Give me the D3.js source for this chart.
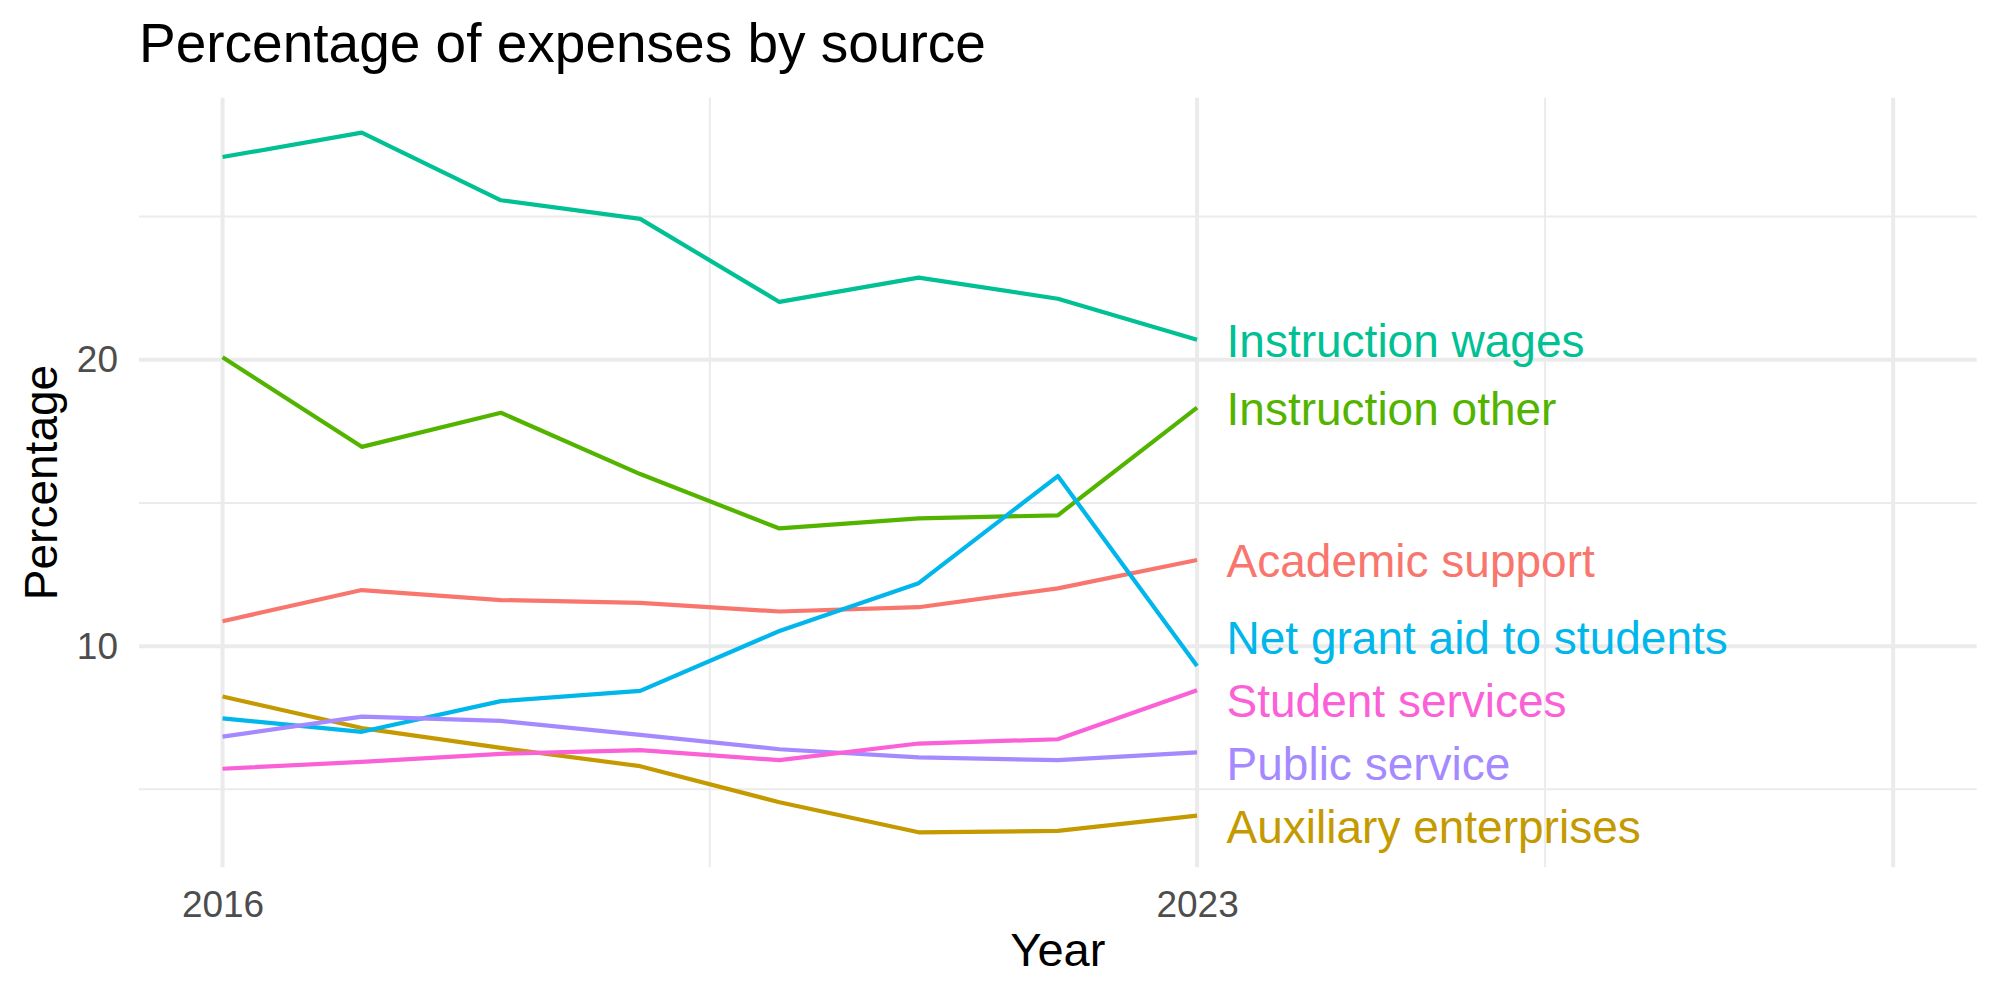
<!DOCTYPE html>
<html>
<head>
<meta charset="utf-8">
<title>Percentage of expenses by source</title>
<script src="https://cdn.jsdelivr.net/npm/d3@7"></script>
<style>
    body { margin: 0; background: #fff; }
    #chart-area text { font-family: "Liberation Sans", Arial, sans-serif; }
    .grid line { stroke: #ebebeb; }
</style>
</head>
<body>
<div id="chart-area"></div>
<script>

// Data
var years = [2016, 2017, 2018, 2019, 2020, 2021, 2022, 2023];

var categories = ["Academic support", "Auxiliary enterprises", "Instruction other", "Instruction wages",
    "Net grant aid to students", "Public service", "Student services"];

var academicSupport      = [10.87, 11.96, 11.61, 11.51, 11.21, 11.36, 12.02, 13.01];
var auxiliaryEnterprises = [8.24, 7.14, 6.45, 5.81, 4.55, 3.50, 3.55, 4.08];
var instructionOther     = [20.09, 16.96, 18.15, 16.01, 14.11, 14.46, 14.57, 18.33];
var instructionWages     = [27.08, 27.93, 25.57, 24.92, 22.02, 22.87, 22.13, 20.70];
var netGrantAid          = [7.48, 7.01, 8.08, 8.44, 10.53, 12.20, 15.94, 9.31];
var publicService        = [6.84, 7.54, 7.39, 6.90, 6.40, 6.12, 6.02, 6.29];
var studentServices      = [5.72, 5.96, 6.24, 6.37, 6.02, 6.60, 6.75, 8.46];

// where the repelled end labels sit (percentage units)
var labelValues = [12.98, 3.70, 18.30, 20.67, 10.31, 5.91, 8.11];

// axis
var xLimits = [2016, 2028];
var xBreaks = [2016, 2023, 2028];
var xLabels = ["2016", "2023", ""];
var xMinorBreaks = [2019.5, 2025.5];
var yBreaks = [10, 20];
var yMinorBreaks = [5, 15, 25];

var colors = ["#F8766D", "#C49A00", "#53B400", "#00C094", "#00B6EB", "#A58AFF", "#FB61D7"];


ExpenseChart = function(_parentElement){
    this.parentElement = _parentElement;
    this.data = [academicSupport, auxiliaryEnterprises, instructionOther, instructionWages,
        netGrantAid, publicService, studentServices].map(function(vals, i){
        return {
            name: categories[i],
            label: labelValues[i],
            values: vals.map(function(v, j){ return {year: years[j], value: v}; })
        };
    });

    this.initVis();
}


/*
 * Initialize visualization (static content, e.g. SVG area or axes)
 */

ExpenseChart.prototype.initVis = function(){
    var vis = this;

    vis.margin = {top: 97.7, bottom: 132.7, left: 139, right: 23.3};
    vis.width = 2000 - vis.margin.left - vis.margin.right;
    vis.height = 1000 - vis.margin.top - vis.margin.bottom;

    vis.root = d3.select("#" + vis.parentElement).append("svg")
        .attr("width", 2000)
        .attr("height", 1000);

    vis.svg = vis.root.append("g")
        .attr("transform", "translate(" + vis.margin.left + "," + vis.margin.top + ")");

    // Scales (ggplot style 5% expansion)
    var xSpan = xLimits[1] - xLimits[0];
    vis.x = d3.scaleLinear()
        .domain([xLimits[0] - xSpan * 0.05, xLimits[1] + xSpan * 0.05])
        .range([0, vis.width]);

    var all = d3.merge(vis.data.map(function(d){ return d.values.map(function(v){ return v.value; }); }));
    var yExt = d3.extent(all);
    var ySpan = yExt[1] - yExt[0];
    vis.y = d3.scaleLinear()
        .domain([yExt[0] - ySpan * 0.05, yExt[1] + ySpan * 0.05])
        .range([vis.height, 0]);

    // grid lines
    var grid = vis.svg.append("g").attr("class", "grid");

    grid.selectAll("line.y-minor")
        .data(yMinorBreaks)
        .enter().append("line")
        .attr("class", "y-minor")
        .attr("x1", 0).attr("x2", vis.width)
        .attr("y1", function(d){ return vis.y(d); })
        .attr("y2", function(d){ return vis.y(d); })
        .attr("stroke-width", 2);

    grid.selectAll("line.x-minor")
        .data(xMinorBreaks)
        .enter().append("line")
        .attr("class", "x-minor")
        .attr("y1", 0).attr("y2", vis.height)
        .attr("x1", function(d){ return vis.x(d); })
        .attr("x2", function(d){ return vis.x(d); })
        .attr("stroke-width", 2);

    grid.selectAll("line.y-major")
        .data(yBreaks)
        .enter().append("line")
        .attr("class", "y-major")
        .attr("x1", 0).attr("x2", vis.width)
        .attr("y1", function(d){ return vis.y(d); })
        .attr("y2", function(d){ return vis.y(d); })
        .attr("stroke-width", 4);

    grid.selectAll("line.x-major")
        .data(xBreaks)
        .enter().append("line")
        .attr("class", "x-major")
        .attr("y1", 0).attr("y2", vis.height)
        .attr("x1", function(d){ return vis.x(d); })
        .attr("x2", function(d){ return vis.x(d); })
        .attr("stroke-width", 4);

    // Axes
    vis.xAxis = d3.axisBottom(vis.x)
        .tickValues(xBreaks)
        .tickFormat(function(d, i){ return xLabels[i]; })
        .tickSize(0)
        .tickPadding(23);

    vis.yAxis = d3.axisLeft(vis.y)
        .tickValues(yBreaks)
        .tickFormat(d3.format("d"))
        .tickSize(0)
        .tickPadding(21);

    vis.svg.append("g")
        .attr("class", "x-axis axis")
        .attr("transform", "translate(0," + vis.height + ")")
        .call(vis.xAxis);

    vis.svg.append("g")
        .attr("class", "y-axis axis")
        .call(vis.yAxis);

    vis.svg.selectAll(".axis .domain").remove();
    vis.svg.selectAll(".axis text")
        .attr("fill", "#4d4d4d")
        .style("font-size", "37px");

    // titles
    vis.root.append("text")
        .attr("x", 139)
        .attr("y", 61.7)
        .style("font-size", "55px")
        .attr("fill", "#000")
        .text("Percentage of expenses by source");

    vis.root.append("text")
        .attr("x", vis.margin.left + vis.width / 2)
        .attr("y", 966)
        .attr("text-anchor", "middle")
        .style("font-size", "47px")
        .text("Year");

    vis.root.append("text")
        .attr("transform", "translate(57," + (vis.margin.top + vis.height / 2) + ") rotate(-90)")
        .attr("text-anchor", "middle")
        .style("font-size", "46px")
        .text("Percentage");

    vis.line = d3.line()
        .x(function(d){ return vis.x(d.year); })
        .y(function(d){ return vis.y(d.value); });

    vis.wrangleData();
}


ExpenseChart.prototype.wrangleData = function(){
    var vis = this;

    vis.lastYear = d3.max(years);

    vis.updateVis();
}


/*
 * The drawing function
 */

ExpenseChart.prototype.updateVis = function(){
    var vis = this;

    vis.svg.selectAll("path.series")
        .data(vis.data)
        .enter().append("path")
        .attr("class", "series")
        .attr("d", function(d){ return vis.line(d.values); })
        .attr("fill", "none")
        .attr("stroke", function(d, i){ return colors[i]; })
        .attr("stroke-width", 4.2)
        .attr("stroke-linejoin", "round");

    vis.svg.selectAll("text.end-label")
        .data(vis.data)
        .enter().append("text")
        .attr("class", "end-label")
        .attr("x", vis.x(vis.lastYear) + 29.5)
        .attr("y", function(d){ return vis.y(d.label); })
        .attr("dy", "0.355em")
        .attr("fill", function(d, i){ return colors[i]; })
        .style("font-size", "46px")
        .text(function(d){ return d.name; });
}

var chart = new ExpenseChart("chart-area");

</script>
</body>
</html>
